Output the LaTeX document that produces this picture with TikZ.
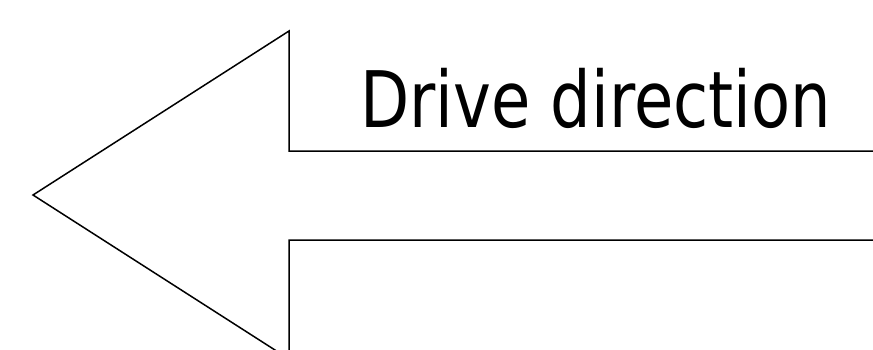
\documentclass[tikz,border=0pt]{standalone}
\usepackage{fontspec}
\setmainfont{DejaVu Sans}
\usetikzlibrary{calc}

\begin{document}
\begin{tikzpicture}[x=1pt,y=-1pt]
                    \useasboundingbox (0,0) rectangle (873,349);
                    \clip (0,0) rectangle (873,349);

                    \coordinate (tip) at (33,195);
                    \coordinate (headtop) at (289,31);
                    \coordinate (headbot) at (289,359);
                    \coordinate (shafttop) at (289,151);
                    \coordinate (shaftbot) at (289,240);
                    \coordinate (endtop) at (880,151);
                    \coordinate (endbot) at (880,240);

                    \draw[line width=1.5pt,line join=miter]
                        (endtop) -- (shafttop) -- (headtop) -- (tip)
                        -- (headbot) -- (shaftbot) -- (endbot);

                    \node[anchor=base west,inner sep=0pt,font=\fontsize{78}{80}\selectfont]
                        (label) at (360,127) {\scalebox{0.82}[1]{Drive direction}};
                \end{tikzpicture}
\end{document}
